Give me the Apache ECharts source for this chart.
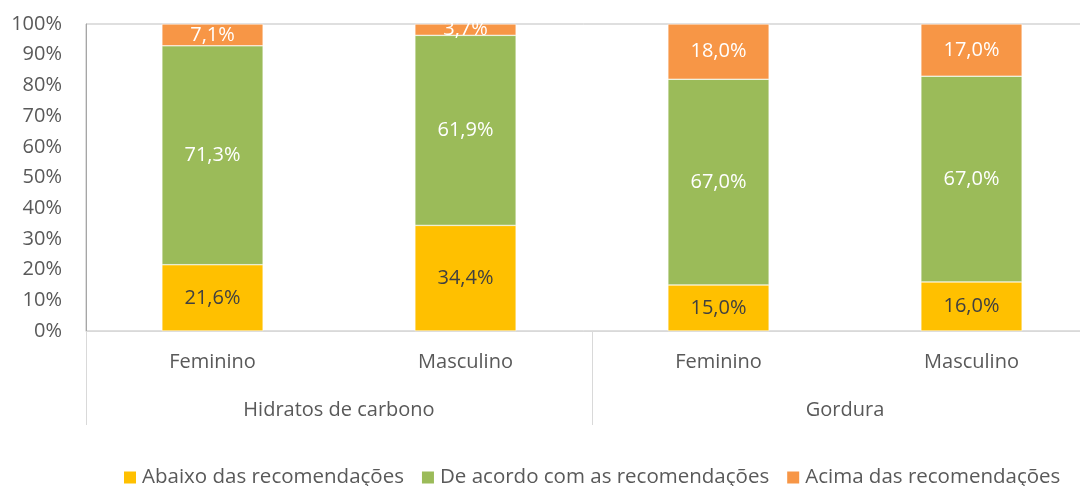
<!DOCTYPE html>
<html>
<head>
<meta charset="utf-8">
<script src="https://cdn.jsdelivr.net/npm/echarts@6/dist/echarts.min.js"></script>
<style>
  html, body { margin: 0; padding: 0; background: #fff; }
  #main { width: 1080px; height: 486px; }
</style>
</head>
<body>
<div id="main"></div>
<script>
// dados
var sexos = ["Feminino", "Masculino", "Feminino", "Masculino"];
var grupos = ["Hidratos de carbono", "Gordura"];
var abaixo = [21.6, 34.4, 15.0, 16.0];
var deAcordo = [71.3, 61.9, 67.0, 67.0];
var acima = [7.1, 3.7, 18.0, 17.0];

var fonte = "Open Sans";
var cinza = "#595959";
var tam = 20;

function rotulo(cor) {
  return {
    show: true,
    position: "inside",
    color: cor,
    fontSize: tam,
    fontFamily: fonte,
    formatter: function (p) {
      return p.value.toFixed(1).replace(".", ",") + "%";
    }
  };
}

var myChart = echarts.init(document.getElementById("main"));
var option = {
  animation: false,
  textStyle: { fontFamily: fonte },
  grid: {
    left: 86,
    top: 24,
    width: 1012,
    height: 307,
    outerBoundsMode: "none",
    show: true,
    borderColor: "#bfbfbf",
    borderWidth: 1
  },
  legend: {
    top: 462,
    left: 117,
    width: 962,
    itemWidth: 14,
    itemHeight: 14,
    itemGap: 16,
    icon: "rect",
    textStyle: { fontSize: 20.5, color: cinza, fontFamily: fonte },
    data: ["Abaixo das recomendações", "De acordo com as recomendações", "Acima das recomendações"]
  },
  xAxis: [
    {
      type: "category",
      data: sexos,
      axisLine: { lineStyle: { color: "#d9d9d9" } },
      axisTick: { show: false },
      axisLabel: { fontSize: tam, color: cinza, margin: 21 }
    },
    {
      type: "category",
      data: grupos,
      position: "bottom",
      axisLine: { show: false },
      axisTick: { show: true, length: 94, interval: 0, lineStyle: { color: "#d9d9d9" } },
      axisLabel: { fontSize: tam, color: cinza, margin: 69 }
    }
  ],
  yAxis: {
    type: "value",
    min: 0,
    max: 100,
    interval: 10,
    splitLine: { show: false },
    axisLine: { show: true, lineStyle: { color: "#a6a6a6" } },
    axisTick: { show: false },
    axisLabel: { fontSize: tam, color: cinza, margin: 24, formatter: "{value}%" }
  },
  series: [
    {
      name: "Abaixo das recomendações",
      type: "bar",
      stack: "total",
      barWidth: "40%",
      data: abaixo,
      itemStyle: { color: "#FFC000", borderColor: "#fff", borderWidth: 0.5 },
      label: rotulo("#404040")
    },
    {
      name: "De acordo com as recomendações",
      type: "bar",
      stack: "total",
      data: deAcordo,
      itemStyle: { color: "#9BBB59", borderColor: "#fff", borderWidth: 0.5 },
      label: rotulo("#ffffff")
    },
    {
      name: "Acima das recomendações",
      type: "bar",
      stack: "total",
      data: acima,
      itemStyle: { color: "#F79646", borderColor: "#fff", borderWidth: 0.5 },
      label: rotulo("#ffffff")
    }
  ]
};
myChart.setOption(option);
</script>
</body>
</html>
